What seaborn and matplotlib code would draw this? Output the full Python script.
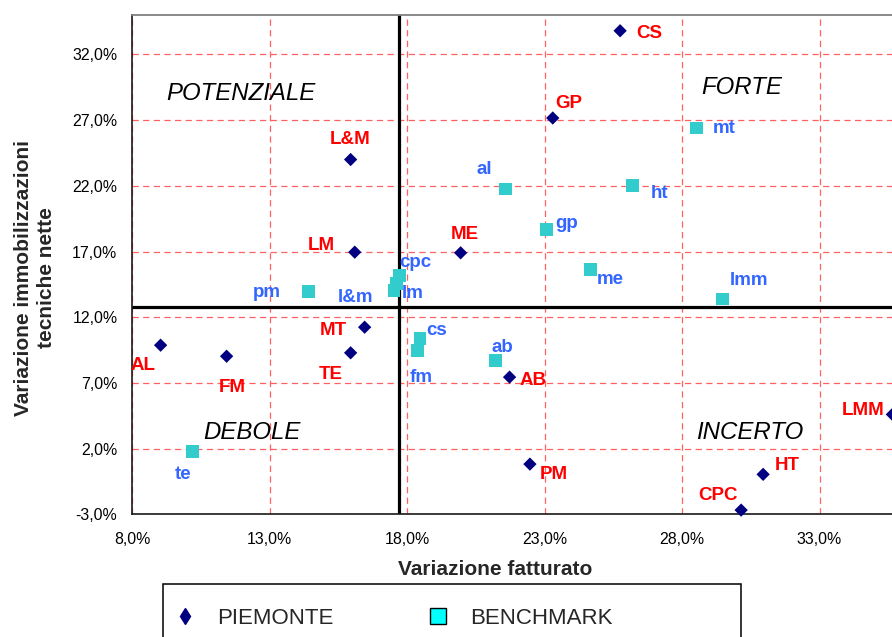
import matplotlib
matplotlib.use("Agg")
import matplotlib.pyplot as plt
import seaborn as sns
import pandas as pd
from matplotlib.lines import Line2D
from matplotlib.patches import Rectangle

# ---------------- data ----------------
piemonte_labels = ["CS", "GP", "L&M", "LM", "ME", "MT", "TE", "AL", "FM", "AB", "PM", "HT", "CPC", "LMM"]
piemonte_x = [25.75, 23.30, 15.95, 16.10, 19.95, 16.46, 15.95, 9.04, 11.44, 21.73, 22.47, 30.95, 30.15, 35.65]
piemonte_y = [33.8, 27.16, 24.0, 16.95, 16.9, 11.24, 9.29, 9.87, 9.03, 7.44, 0.82, 0.04, -2.68, 4.6]

benchmark_labels = ["mt", "ht", "al", "gp", "me", "lmm", "pm", "cpc", "l&m", "lm", "cs", "fm", "ab", "te"]
benchmark_x = [28.53, 26.21, 21.59, 23.08, 24.68, 29.48, 14.41, 17.72, 17.62, 17.53, 18.47, 18.39, 21.22, 10.21]
benchmark_y = [26.4, 22.04, 21.76, 18.69, 15.63, 13.39, 13.93, 15.17, 14.59, 14.05, 10.38, 9.44, 8.73, 1.76]

series_names = ["PIEMONTE", "BENCHMARK"]

x_ticks = [8, 13, 18, 23, 28, 33]
x_tick_labels = ["8,0%", "13,0%", "18,0%", "23,0%", "28,0%", "33,0%"]
y_ticks = [-3, 2, 7, 12, 17, 22, 27, 32]
y_tick_labels = ["-3,0%", "2,0%", "7,0%", "12,0%", "17,0%", "22,0%", "27,0%", "32,0%"]

x_threshold = 17.70
y_threshold = 12.78

quadrant_names = ["POTENZIALE", "FORTE", "DEBOLE", "INCERTO"]
quadrant_x = [11.96, 30.17, 12.35, 30.47]
quadrant_y = [28.56, 29.01, 2.70, 2.70]

x_title = "Variazione fatturato"
y_title = "Variazione immobilizzazioni\ntecniche nette"

# label offsets (pixels, baseline-centred)
piemonte_offsets = [(29.5, -7.3), (16.3, 9.7), (-0.4, 16), (-33, 2), (3.8, 13.4), (-31.4, -8),
                    (-19.4, -26.6), (-17.4, -25), (6, -35.7), (23.1, -8), (23.7, -15.3),
                    (23.7, 4.3), (-23.2, 10), (-29.6, -0.7)]
benchmark_offsets = [(28, -4.6), (26.5, -12.3), (-21, 14.7), (20, 1), (19.3, -14), (26.1, 13.7),
                     (-41.1, -5.3), (16.2, 9), (-41, -18.7), (18.7, -7.6), (17, 3.3),
                     (3.5, -31), (7.1, 8.3), (-9.9, -27.6)]

# ---------------- style ----------------
sns.set_theme(style="white")
plt.rcParams["font.family"] = ["Liberation Sans", "DejaVu Sans"]

W, H = 892, 637
fig = plt.figure(figsize=(W / 100, H / 100), dpi=100)
ax_left, ax_right_px = 132, 132 + 30 * 27.5
ax_top, ax_bottom = 15, 514.3
ax = fig.add_axes([ax_left / W, 1 - ax_bottom / H, (ax_right_px - ax_left) / W, (ax_bottom - ax_top) / H])
ax.set_xlim(8, 38)
ax.set_ylim(-3, 35)

navy = "#000080"
teal = "#33CCCC"
red = "#FF0000"
blue = "#3366FF"

df_p = pd.DataFrame({"x": piemonte_x, "y": piemonte_y, "label": piemonte_labels})
df_b = pd.DataFrame({"x": benchmark_x, "y": benchmark_y, "label": benchmark_labels})

ax.set_axisbelow(True)
ax.grid(True, color="#FF6060", linestyle=(0, (5, 3.5)), linewidth=0.9)

ax.axvline(x_threshold, color="black", lw=2.3, zorder=2)
ax.axhline(y_threshold, color="black", lw=2.3, zorder=2)

sns.scatterplot(data=df_b, x="x", y="y", marker="s", s=85, color=teal, edgecolor="none",
                ax=ax, legend=False, zorder=4, clip_on=False)
sns.scatterplot(data=df_p, x="x", y="y", marker="D", s=46, color=navy, edgecolor="none",
                ax=ax, legend=False, zorder=5, clip_on=False)

for (lbl, x, y), off in zip(df_p[["label", "x", "y"]].itertuples(index=False), piemonte_offsets):
    ax.annotate(lbl, (x, y), xytext=off, textcoords="offset pixels", ha="center", va="baseline",
                color=red, fontsize=13.5, fontweight="bold", zorder=6)
for (lbl, x, y), off in zip(df_b[["label", "x", "y"]].itertuples(index=False), benchmark_offsets):
    ax.annotate(lbl, (x, y), xytext=off, textcoords="offset pixels", ha="center", va="baseline",
                color=blue, fontsize=13.5, fontweight="bold", zorder=6)

for name, qx, qy in zip(quadrant_names, quadrant_x, quadrant_y):
    ax.text(qx, qy, name, ha="center", va="baseline", fontsize=17.3, style="italic", color="black")

ax.set_xticks(x_ticks)
ax.set_xticklabels(x_tick_labels)
ax.set_yticks(y_ticks)
ax.set_yticklabels(y_tick_labels)
ax.tick_params(axis="both", length=0, labelsize=11.4, colors="black")
ax.tick_params(axis="x", pad=13)
ax.tick_params(axis="y", pad=10.5)

ax.set_xlabel(x_title, fontsize=15, fontweight="bold")
ax.xaxis.label.set_verticalalignment("baseline")
ax.xaxis.set_label_coords((495 - ax_left) / (ax_right_px - ax_left), (ax_bottom - 575) / (ax_bottom - ax_top))
ax.set_ylabel(y_title, fontsize=15, fontweight="bold", multialignment="center", linespacing=1.2)
ax.yaxis.label.set_verticalalignment("center")
ax.yaxis.set_label_coords((35 - ax_left) / (ax_right_px - ax_left), (ax_bottom - 278) / (ax_bottom - ax_top))

for s in ["left", "bottom"]:
    ax.spines[s].set_color("#1a1a1a")
    ax.spines[s].set_linewidth(1.2)
ax.spines["top"].set_color("#808080")
ax.spines["top"].set_linewidth(1.3)
ax.spines["right"].set_visible(False)

# legend
handles = [
    Line2D([], [], marker="d", color=navy, ls="none", ms=8.2),
    Line2D([], [], marker="s", mfc="#00FFFF", mec="black", mew=1.0, ls="none", ms=11.5),
]
fig.legend(handles, series_names, loc="center left", bbox_to_anchor=(174 / W, 1 - 618 / H),
           ncol=2, frameon=False, fontsize=16, handlelength=1.0, handletextpad=0.95,
           columnspacing=4.2, borderpad=0, borderaxespad=0)
fig.patches.append(Rectangle((162.5 / W, -0.05), (741 - 162.5) / W, (637 - 583.5) / H + 0.05,
                             transform=fig.transFigure, fill=False, ec="black", lw=1.1))

fig.savefig("out.png", dpi=100)
